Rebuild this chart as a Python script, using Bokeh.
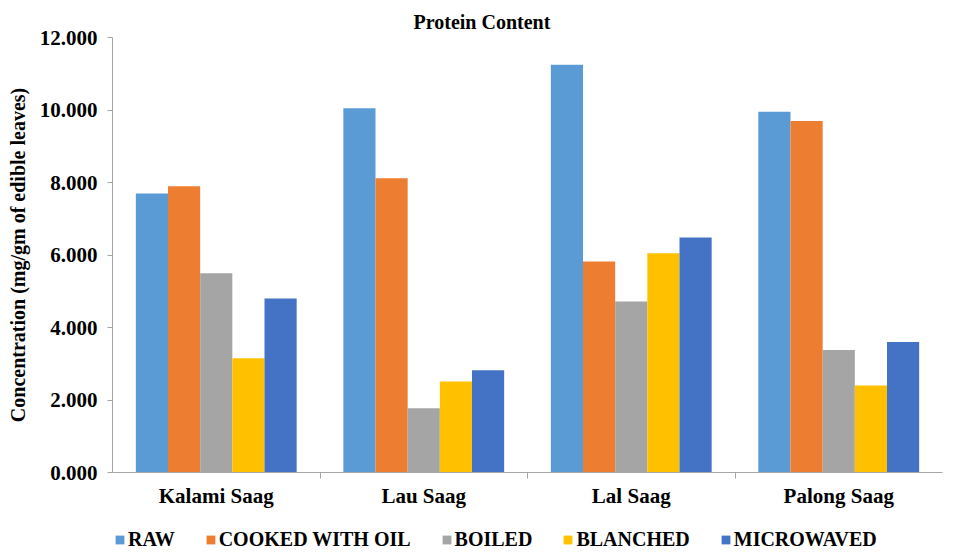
from bokeh.plotting import figure
from bokeh.layouts import column
from bokeh.core.properties import value
from bokeh.models import (ColumnDataSource, FixedTicker, NumeralTickFormatter, Legend,
                          LegendItem, Range1d)
from bokeh.transform import dodge
from bokeh.embed import file_html
from bokeh.resources import INLINE

categories = ["Kalami Saag", "Lau Saag", "Lal Saag", "Palong Saag"]
series = ["RAW", "COOKED WITH OIL", "BOILED", "BLANCHED", "MICROWAVED"]
raw = [7.70, 10.05, 11.25, 9.95]
cooked = [7.90, 8.12, 5.82, 9.70]
boiled = [5.50, 1.77, 4.72, 3.38]
blanched = [3.15, 2.51, 6.05, 2.40]
microwaved = [4.80, 2.82, 6.48, 3.60]
y_ticks = [0, 2, 4, 6, 8, 10, 12]

colors = ["#5B9BD5", "#ED7D31", "#A5A5A5", "#FFC000", "#4472C4"]
values = [raw, cooked, boiled, blanched, microwaved]

FONT = "Liberation Serif"

xc = [i + 0.5 for i in range(len(categories))]
cols = ["s%d" % i for i in range(len(series))]
data = {"xc": xc}
for k, v in zip(cols, values):
    data[k] = v
src = ColumnDataSource(data)

p = figure(width=943, height=512, output_backend="svg", toolbar_location=None,
           x_range=Range1d(0, len(categories)), y_range=Range1d(0, 12),
           min_border_left=112, min_border_right=1, min_border_top=37,
           min_border_bottom=40)
p.outline_line_color = None
p.xgrid.grid_line_color = None
p.ygrid.grid_line_color = None

p.title.text = "Protein Content"
p.title.text_font = FONT
p.title.text_font_size = "20px"
p.title.text_font_style = "bold"
p.title.text_color = "black"
p.title.align = "left"
p.title.offset = 301

w = 0.155
for i, (k, c) in enumerate(zip(cols, colors)):
    p.vbar(x=dodge("xc", (i - 2) * w, range=p.x_range), top=k, width=w,
           source=src, fill_color=c, line_color=None)

# x axis
p.xaxis.ticker = FixedTicker(ticks=xc, minor_ticks=[1, 2, 3])
p.xaxis.major_label_overrides = {x: c for x, c in zip(xc, categories)}
p.xaxis.major_tick_line_color = None
p.xaxis.minor_tick_line_color = "#A6A6A6"
p.xaxis.minor_tick_out = 6
p.xaxis.minor_tick_in = 0
p.xaxis.axis_line_color = "#A6A6A6"
p.xaxis.major_label_text_font = FONT
p.xaxis.major_label_text_font_size = "21px"
p.xaxis.major_label_text_font_style = "bold"
p.xaxis.major_label_text_color = "black"
p.xaxis.major_label_standoff = 5

# y axis
p.yaxis.ticker = FixedTicker(ticks=y_ticks, minor_ticks=[])
p.yaxis.formatter = NumeralTickFormatter(format="0.000")
p.yaxis.axis_line_color = "#A6A6A6"
p.yaxis.major_tick_line_color = "#A6A6A6"
p.yaxis.major_tick_out = 5
p.yaxis.major_tick_in = 0
p.yaxis.minor_tick_line_color = None
p.yaxis.major_label_text_font = FONT
p.yaxis.major_label_text_font_size = "21px"
p.yaxis.major_label_text_font_style = "bold"
p.yaxis.major_label_text_color = "black"
p.yaxis.major_label_standoff = 10
p.yaxis.axis_label = "Concentration (mg/gm of edible leaves)"
p.yaxis.axis_label_text_font = FONT
p.yaxis.axis_label_text_font_size = "20px"
p.yaxis.axis_label_text_font_style = "bold"
p.yaxis.axis_label_text_color = "black"
p.yaxis.axis_label_standoff = 8

# legend strip below the chart (its renderers are hidden; only the swatches show)
leg = figure(width=943, height=39, output_backend="svg", toolbar_location=None,
             x_range=Range1d(0, len(categories)), y_range=Range1d(0, 12),
             x_axis_location=None, y_axis_location=None,
             min_border_left=0, min_border_right=0, min_border_top=0, min_border_bottom=0)
leg.outline_line_color = None
leg.xgrid.grid_line_color = None
leg.ygrid.grid_line_color = None
items = []
for i, (k, s, c) in enumerate(zip(cols, series, colors)):
    r = leg.vbar(x=dodge("xc", (i - 2) * w, range=leg.x_range), top=k, width=w,
                 source=src, fill_color=c, line_color=None, visible=False)
    items.append(LegendItem(label=value(s), renderers=[r]))

legend = Legend(items=items, orientation="horizontal", location=(2, 0))
legend.click_policy = "none"
legend.border_line_color = None
legend.background_fill_alpha = 0
legend.label_text_font = FONT
legend.label_text_font_size = "20px"
legend.label_text_font_style = "bold"
legend.label_text_color = "black"
legend.glyph_width = 11
legend.glyph_height = 11
legend.label_standoff = 3
legend.spacing = 30
legend.padding = 0
legend.margin = 0
leg.add_layout(legend, "center")

open("out.html", "w").write(file_html(column(p, leg, spacing=0), INLINE))
